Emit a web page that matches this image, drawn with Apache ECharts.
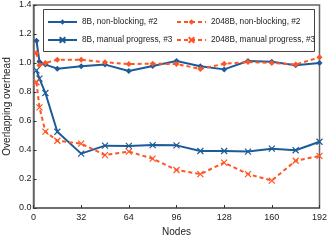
<!DOCTYPE html>
<html><head><meta charset="utf-8">
<script src="https://cdn.jsdelivr.net/npm/echarts@6/dist/echarts.min.js"></script>
<style>html,body{margin:0;padding:0;background:#fff}#c{width:327px;height:240px}</style>
</head><body><div id="c"></div>
<script>
var nodes = [2, 4, 8, 16, 32, 48, 64, 80, 96, 112, 128, 144, 160, 176, 192];
var nb8 = [1.154, 1.009, 0.989, 0.961, 0.977, 0.989, 0.945, 0.979, 1.014, 0.977, 0.956, 1.014, 1.009, 0.984, 1.0];
var nb2048 = [1.069, 0.984, 1.0, 1.023, 1.023, 1.005, 0.993, 0.995, 0.993, 0.959, 0.995, 1.007, 1.0, 0.989, 1.039];
var mp8 = [0.949, 0.892, 0.793, 0.526, 0.375, 0.43, 0.428, 0.434, 0.432, 0.393, 0.393, 0.389, 0.409, 0.398, 0.457];
var mp2048 = [0.867, 0.694, 0.527, 0.464, 0.444, 0.365, 0.389, 0.34, 0.262, 0.234, 0.313, 0.234, 0.189, 0.326, 0.359];
var names = ["8B, non-blocking, #2", "2048B, non-blocking, #2", "8B, manual progress, #3", "2048B, manual progress, #3"];
var xTicks = [0, 32, 64, 96, 128, 160, 192];

var BLUE = '#1d5b98', RED = '#ff5522';
var XSYM = 'path://M0,0L10,10M10,0L0,10';
function pts(v){ return nodes.map(function(n,i){ return [n, v[i]]; }); }
function mk(name, data, color, dashed, sym){
  return {
    name: name, type: 'line', data: pts(data), z: 2,
    lineStyle: {color: color, width: 2, type: dashed ? [4, 3] : 'solid'},
    symbol: sym, symbolSize: 6,
    itemStyle: {color: color, borderColor: color, borderWidth: sym === 'diamond' ? 0 : 1.2},
    showSymbol: true, animation: false
  };
}
var chart = echarts.init(document.getElementById('c'));
var txt = {fontFamily: 'Liberation Sans', fontSize: 9, color: '#222'};
var ltxt = {fontFamily: 'Liberation Sans', fontSize: 8.3, color: '#222'};
chart.setOption({
  animation: false,
  textStyle: {fontFamily: 'Liberation Sans'},
  grid: {left: 33.5, right: 7.5, top: 5, bottom: 32, outerBoundsMode: 'none', containLabel: false,
         show: true, borderColor: '#666', borderWidth: 1.5, backgroundColor: 'transparent'},
  xAxis: {
    type: 'value', min: 0, max: 192, interval: 32,
    name: 'Nodes', nameLocation: 'middle', nameGap: 19, nameMoveOverlap: false,
    nameTextStyle: {fontFamily: 'Liberation Sans', fontSize: 10, color: '#222'},
    axisLine: {lineStyle: {color: '#666', width: 1.5}},
    axisTick: {inside: true, length: 3, lineStyle: {color: '#333'}},
    axisLabel: Object.assign({margin: 5, formatter: function(v){ return xTicks.indexOf(v) >= 0 ? String(v) : ''; }}, txt),
    splitLine: {show: false}
  },
  yAxis: {
    type: 'value', min: 0, max: 1.4, interval: 0.2,
    name: 'Overlapping overhead', nameLocation: 'middle', nameGap: 21, nameMoveOverlap: false,
    nameTextStyle: {fontFamily: 'Liberation Sans', fontSize: 10, color: '#222'},
    axisLine: {lineStyle: {color: '#666', width: 1.5}},
    axisTick: {inside: true, length: 3, lineStyle: {color: '#333'}},
    axisLabel: Object.assign({margin: 2, formatter: function(v){ return v.toFixed(1); }}, txt),
    splitLine: {show: false}
  },
  legend: [
    {left: 47, top: 18, orient: 'vertical', itemGap: 10, itemWidth: 29, itemHeight: 7, z: 20,
     data: [names[0], names[2]], textStyle: ltxt, padding: 0},
    {left: 176, top: 18, orient: 'vertical', itemGap: 10, itemWidth: 29, itemHeight: 7, z: 20,
     data: [names[1], names[3]], textStyle: ltxt, padding: 0}
  ],
  graphic: [{type: 'rect', shape: {x: 43.5, y: 9.5, width: 271, height: 42},
    style: {fill: '#fff', stroke: '#444', lineWidth: 1}, z: 10}],
  series: [
    mk(names[0], nb8, BLUE, false, 'diamond'),
    mk(names[1], nb2048, RED, true, 'diamond'),
    mk(names[2], mp8, BLUE, false, XSYM),
    mk(names[3], mp2048, RED, true, XSYM)
  ]
});
</script></body></html>
